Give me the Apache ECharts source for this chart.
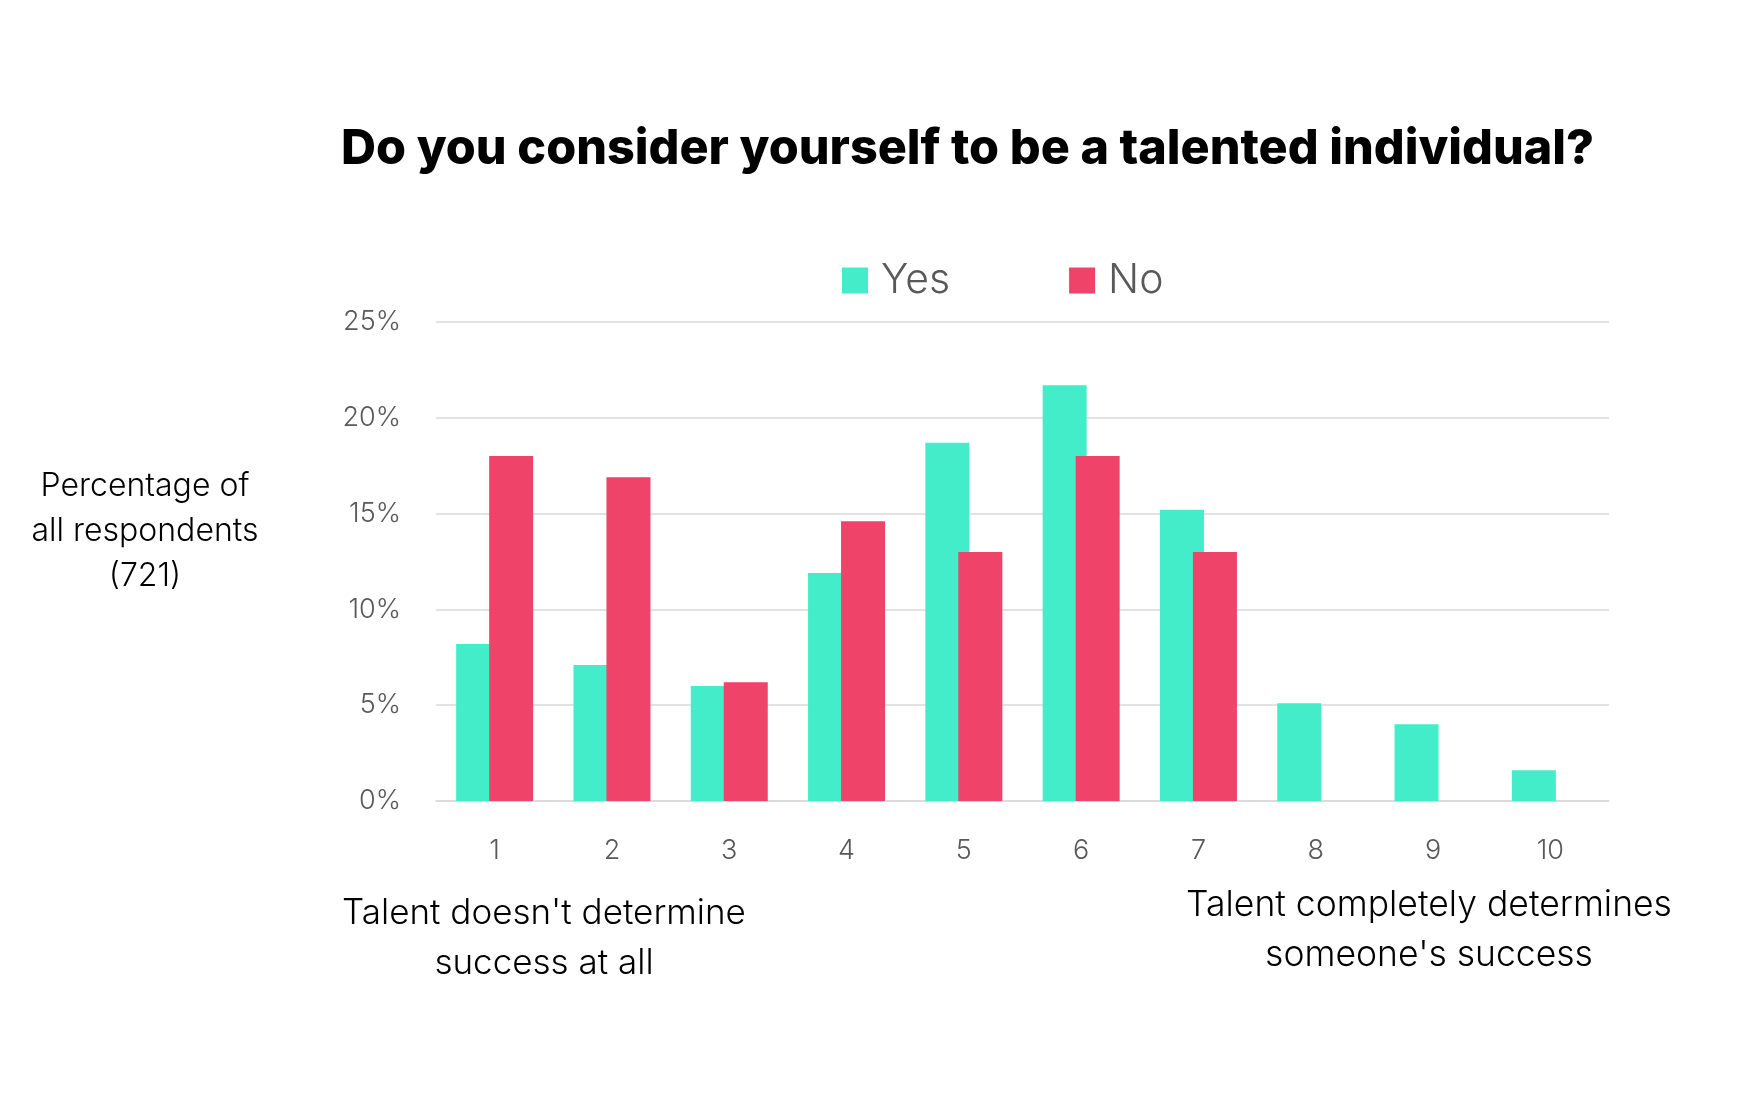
<!DOCTYPE html>
<html><head><meta charset="utf-8">
<script src="https://cdn.jsdelivr.net/npm/echarts@6/dist/echarts.min.js"></script>
<style>html,body{margin:0;padding:0;background:#fff}#c{width:1761px;height:1093px}</style>
</head><body><div id="c"></div>
<script>
const categories = ['1','2','3','4','5','6','7','8','9','10'];
const yesValues = [8.2, 7.1, 6.0, 11.9, 18.7, 21.7, 15.2, 5.1, 4.0, 1.6];
const noValues  = [18.0, 16.9, 6.2, 14.6, 13.0, 18.0, 13.0, 0, 0, 0];
const yTicks = { min: 0, max: 25, interval: 5 };
const seriesNames = ['Yes', 'No'];
const titleText = 'Do you consider yourself to be a talented individual?';
const yAxisTitle = 'Percentage of\nall respondents\n(721)';
const leftNote = "Talent doesn't determine\nsuccess at all";
const rightNote = "Talent completely determines\nsomeone's success";

const FONT = 'Inter, "Noto Sans", sans-serif';
const chart = echarts.init(document.getElementById('c'), null, {renderer: 'canvas'});
chart.setOption({
  backgroundColor: '#ffffff',
  animation: false,
  title: {
    text: titleText,
    left: 336, top: 120,
    textStyle: { fontFamily: FONT, fontWeight: 800, fontSize: 48.5, color: '#000' }
  },
  legend: {
    data: seriesNames,
    left: 837, top: 255,
    itemWidth: 26, itemHeight: 26, itemGap: 119,
    icon: 'rect',
    textStyle: { fontFamily: FONT, fontWeight: 300, fontSize: 41, color: '#595959', padding: [0,0,0,8] }
  },
  grid: { left: 436, right: 152, top: 322, bottom: 292, containLabel: false },
  xAxis: {
    type: 'category', data: categories,
    axisLine: { lineStyle: { color: '#d9d9d9', width: 1.5 } },
    axisTick: { show: false },
    axisLabel: { fontFamily: FONT, fontWeight: 300, fontSize: 27, color: '#595959', margin: 36 }
  },
  yAxis: {
    type: 'value', min: yTicks.min, max: yTicks.max, interval: yTicks.interval,
    axisLine: { show: false }, axisTick: { show: false },
    splitLine: { lineStyle: { color: '#d9d9d9', width: 1.5 } },
    axisLabel: { formatter: '{value}%', fontFamily: FONT, fontWeight: 300, fontSize: 27, color: '#595959', margin: 35 }
  },
  graphic: [
    { type: 'text', x: 145, y: 464, style: { text: yAxisTitle, font: '300 32px ' + FONT, fill: '#000', lineHeight: 45, align: 'center', verticalAlign: 'top' } },
    { type: 'text', x: 544, y: 888, style: { text: leftNote, font: '300 35px ' + FONT, fill: '#000', lineHeight: 50, align: 'center', verticalAlign: 'top' } },
    { type: 'text', x: 1429, y: 880, style: { text: rightNote, font: '300 35.5px ' + FONT, fill: '#000', lineHeight: 50, align: 'center', verticalAlign: 'top' } }
  ],
  series: [
    { name: seriesNames[0], type: 'bar', data: yesValues, barWidth: 44, barGap: '-25%', itemStyle: { color: '#43EDCA' } },
    { name: seriesNames[1], type: 'bar', data: noValues, barWidth: 44, barGap: '-25%', itemStyle: { color: '#F0436A' } }
  ]
});
</script></body></html>
